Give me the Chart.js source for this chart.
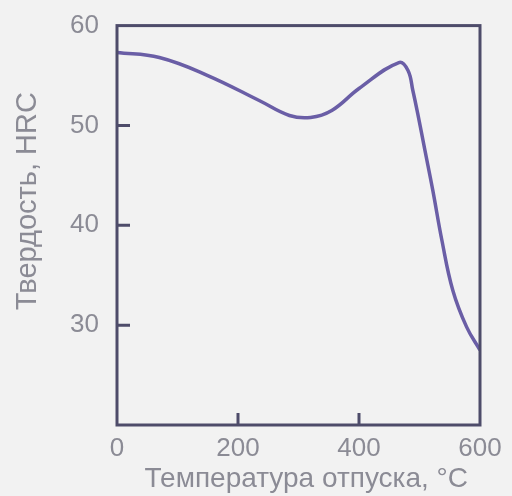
<!DOCTYPE html>
<html>
<head>
<meta charset="utf-8">
<script src="https://cdn.jsdelivr.net/npm/chart.js@4"></script>
<style>
  html, body { margin: 0; padding: 0; background: #f2f2f2; }
  #wrap { width: 512px; height: 496px; }
</style>
</head>
<body>
<div id="wrap"><canvas id="chart" width="512" height="496"></canvas></div>
<script>
// temperature, °C
const temps = [0, 70, 150, 235, 285, 320, 355, 400, 466, 481, 489, 497, 509, 522, 537, 555, 578, 600]
// hardness, HRC
const hardness = [57.3, 56.8, 55.0, 52.5, 51.0, 50.8, 51.5, 53.7, 56.3, 55.5, 53.5, 51.2, 47.5, 43.5, 38.5, 33.5, 29.8, 27.5]

const xTicks = [0, 200, 400, 600]
const yTicks = [30, 40, 50, 60]

const textColor = '#8b8b95'
const boxColor = '#4e4c6a'

// frame + small inward ticks, placed with the chart's own scales
const framePlugin = {
    id: 'frame',
    afterDraw(chart) {
        const ctx = chart.ctx
        const a = chart.chartArea
        const xs = chart.scales.x
        const ys = chart.scales.y
        ctx.save()
        ctx.strokeStyle = boxColor
        ctx.lineWidth = 3
        ctx.strokeRect(a.left, a.top, a.right - a.left, a.bottom - a.top)
        ctx.beginPath()
        xTicks.slice(1, -1).forEach(v => {
            const px = xs.getPixelForValue(v)
            ctx.moveTo(px, a.bottom)
            ctx.lineTo(px, a.bottom - 12)
        })
        yTicks.slice(0, -1).forEach(v => {
            const py = ys.getPixelForValue(v)
            ctx.moveTo(a.left, py)
            ctx.lineTo(a.left + 13, py)
        })
        ctx.stroke()
        ctx.restore()
    }
}

const points = temps.map((t, i) => ({x: t, y: hardness[i]}))

const config = {
    type: 'line',
    data: {
        datasets: [{
            data: points,
            borderColor: '#6a5ea6',
            borderWidth: 3.5,
            pointRadius: 0,
            tension: 0.4,
            fill: false
        }]
    },
    options: {
        responsive: false,
        animation: false,
        layout: { padding: { top: 23, right: 32, left: 0, bottom: 0 } },
        plugins: { legend: { display: false }, tooltip: { enabled: false } },
        scales: {
            x: {
                type: 'linear',
                min: 0,
                max: 600,
                afterBuildTicks: (s) => { s.ticks = xTicks.map(v => ({value: v})) },
                afterFit: (s) => { s.height = 71 },
                grid: { display: false },
                border: { display: false },
                ticks: {
                    color: textColor,
                    padding: 0,
                    maxRotation: 0,
                    font: { family: 'Liberation Sans', size: 26 }
                },
                title: {
                    display: true,
                    text: '  Температура отпуска, °С',
                    color: textColor,
                    padding: { top: 0, bottom: 0 },
                    font: { family: 'Liberation Sans', size: 28 }
                }
            },
            y: {
                type: 'linear',
                min: 20,
                max: 60,
                afterBuildTicks: (s) => { s.ticks = yTicks.map(v => ({value: v})) },
                afterFit: (s) => { s.width = 117 },
                grid: { display: false },
                border: { display: false },
                ticks: {
                    color: textColor,
                    padding: 10,
                    font: { family: 'Liberation Sans', size: 26 }
                },
                title: {
                    display: true,
                    text: '      Твердость, HRC',
                    color: textColor,
                    padding: { top: 11, bottom: 0 },
                    font: { family: 'Liberation Sans', size: 29 }
                }
            }
        }
    },
    plugins: [framePlugin]
}

const myChart = new Chart(document.getElementById('chart'), config)
</script>
</body>
</html>
